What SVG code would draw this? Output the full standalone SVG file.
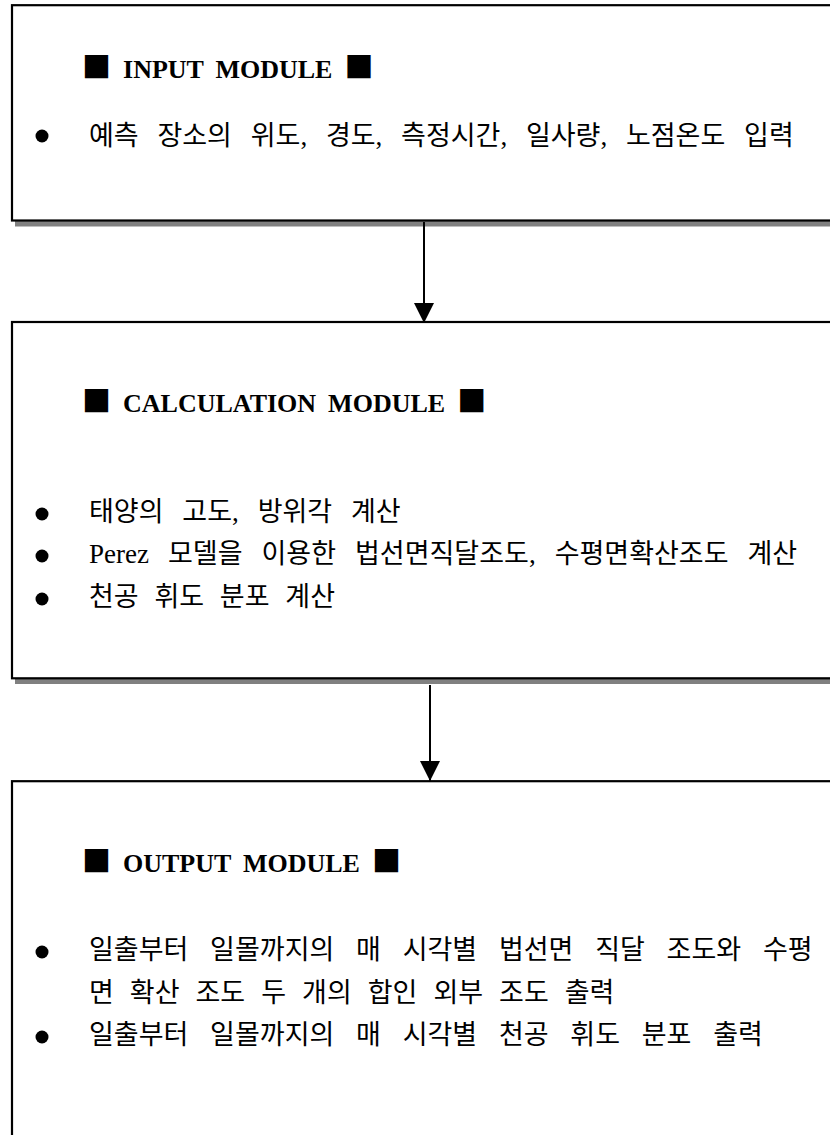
<svg xmlns="http://www.w3.org/2000/svg" width="830" height="1135" viewBox="0 0 830 1135">
<style>
.box{fill:#fff;stroke:#000;stroke-width:2.2}
.shadow{fill:#808080}
.hd{font-family:"Liberation Serif","Noto Sans CJK KR",serif;font-weight:bold;font-size:26px;word-spacing:5.5px;fill:#000}
.sq{font-family:"Noto Sans CJK KR",sans-serif;font-weight:normal;font-size:29px}
.kr{font-family:"Liberation Serif","Noto Sans CJK KR",serif;font-size:27px;fill:#000}
.dot{fill:#000}
.conn{stroke:#000;stroke-width:2;fill:none}
</style>
<defs>
<marker id="arrow" markerUnits="userSpaceOnUse" markerWidth="20" markerHeight="20" viewBox="0 -10 20 20" refX="20" refY="0" orient="auto">
<path d="M0,-10 L20,0 L0,10 Z" fill="#000"/>
</marker>
</defs>
<rect width="830" height="1135" fill="#fff"/>
<g id="input-module">
<rect class="shadow" x="15" y="11" width="830" height="215.5"/>
<rect class="box" x="12" y="5.2" width="830" height="215.3"/>
<text class="hd" x="82" y="78"><tspan class="sq">■</tspan> INPUT MODULE <tspan class="sq">■</tspan></text>
<circle class="dot" cx="42" cy="136" r="6.5"/>
<text class="kr" x="89" y="144.5" style="word-spacing:12px">예측 장소의 위도, 경도, 측정시간, 일사량, 노점온도 입력</text>
</g>
<g id="calculation-module">
<rect class="shadow" x="15" y="328" width="830" height="356"/>
<rect class="box" x="12" y="322" width="830" height="356.3"/>
<text class="hd" x="82" y="412"><tspan class="sq">■</tspan> CALCULATION MODULE <tspan class="sq">■</tspan></text>
<circle class="dot" cx="42" cy="514" r="6.5"/>
<text class="kr" x="89" y="521" style="word-spacing:12.1px">태양의 고도, 방위각 계산</text>
<circle class="dot" cx="42" cy="556" r="6.5"/>
<text class="kr" x="89" y="563" style="word-spacing:12.25px">Perez 모델을 이용한 법선면직달조도, 수평면확산조도 계산</text>
<circle class="dot" cx="42" cy="599" r="6.5"/>
<text class="kr" x="89" y="606" style="word-spacing:9px">천공 휘도 분포 계산</text>
</g>
<g id="output-module">
<rect class="box" x="12" y="781.2" width="830" height="358"/>
<text class="hd" x="82" y="872"><tspan class="sq">■</tspan> OUTPUT MODULE <tspan class="sq">■</tspan></text>
<circle class="dot" cx="42" cy="952" r="6.5"/>
<text class="kr" x="89" y="959" style="word-spacing:15px">일출부터 일몰까지의 매 시각별 법선면 직달 조도와 수평</text>
<text class="kr" x="89" y="1002" style="word-spacing:9.25px">면 확산 조도 두 개의 합인 외부 조도 출력</text>
<circle class="dot" cx="42" cy="1037" r="6.5"/>
<text class="kr" x="89" y="1044" style="word-spacing:15px">일출부터 일몰까지의 매 시각별 천공 휘도 분포 출력</text>
</g>
<g id="connectors">
<line class="conn" x1="424" y1="222" x2="424" y2="323" marker-end="url(#arrow)"/>
<line class="conn" x1="430" y1="685" x2="430" y2="781" marker-end="url(#arrow)"/>
</g>
</svg>
